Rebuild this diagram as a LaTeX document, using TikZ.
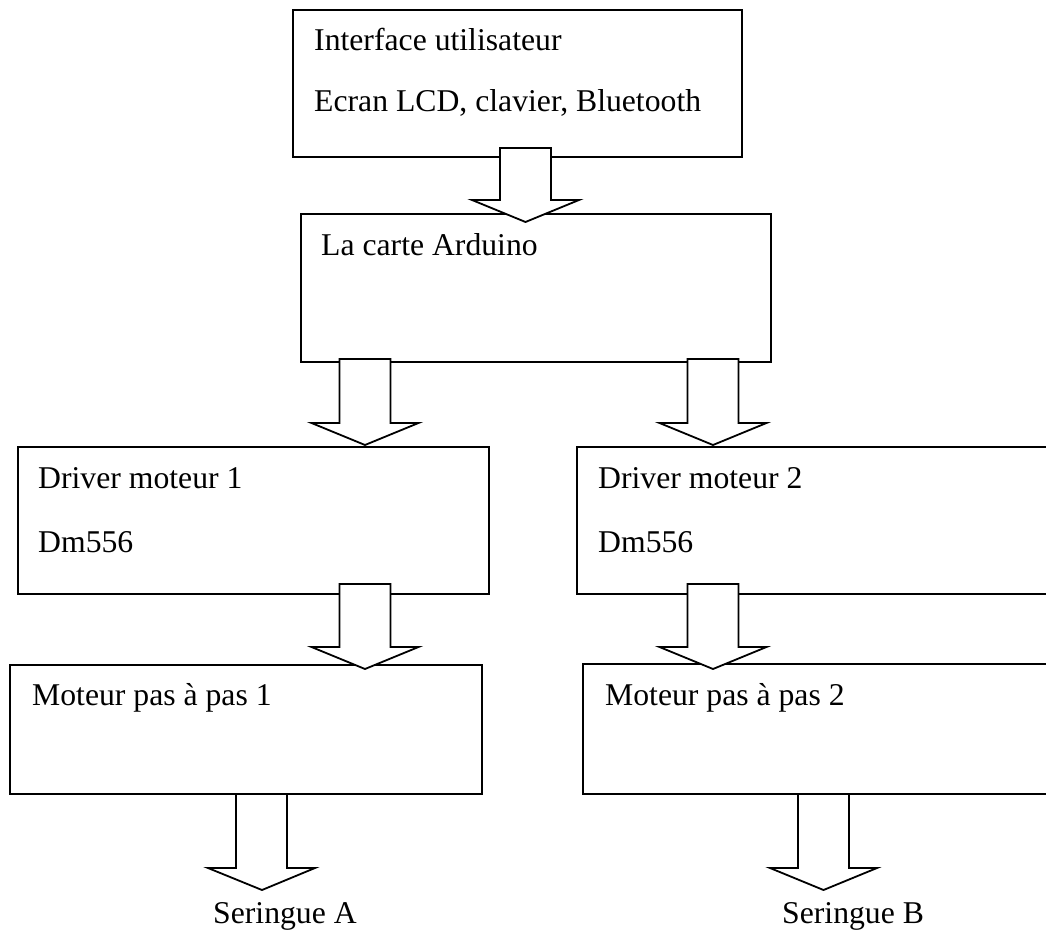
\documentclass[tikz,border=0pt]{standalone}
\usepackage{fontspec}
\setmainfont{Liberation Serif}
\usetikzlibrary{calc}

\tikzset{
  box/.style={draw, line width=2pt, anchor=north west, inner sep=0pt, outer sep=0pt},
  lbl/.style={anchor=base west, inner sep=0pt, font=\fontsize{31.7}{38}\selectfont},
  barrow/.style={draw, fill=white, line width=1.8pt, line join=miter},
}

% hollow block arrow from shaft top #1 to tip #2
\newcommand{\blockarrow}[2]{%
  \draw[barrow] let \p1=(#1), \p2=(#2) in
    (\x1-25.5pt,\y1) -- (\x1+25.5pt,\y1) -- (\x1+25.5pt,\y2+22pt)
    -- (\x1+53.5pt,\y2+22pt) -- (\x2,\y2) -- (\x1-53.5pt,\y2+22pt)
    -- (\x1-25.5pt,\y2+22pt) -- cycle;}

\begin{document}
\begin{tikzpicture}[x=1pt, y=-1pt]
  \useasboundingbox (0,0) rectangle (1046,931);
  \clip (0,0) rectangle (1046,931);

  % blocks
  \node[box, minimum width=449pt, minimum height=147pt] (ui)  at (293,10)  {};
  \node[box, minimum width=470pt, minimum height=148pt] (ard) at (301,214) {};
  \node[box, minimum width=471pt, minimum height=147pt] (drv1) at (18,447) {};
  \node[box, minimum width=480pt, minimum height=147pt] (drv2) at (577,447) {};
  \node[box, minimum width=472pt, minimum height=129pt] (mot1) at (10,665) {};
  \node[box, minimum width=470pt, minimum height=130pt] (mot2) at (583,664) {};

  % texts
  \node[lbl] (uiA)   at ($(ui.north west)+(21,41)$)   {Interface utilisateur};
  \node[lbl] (uiB)   at ($(ui.north west)+(21,102)$)  {Ecran LCD, clavier, Bluetooth};
  \node[lbl] (ardA)  at ($(ard.north west)+(20,41)$)  {La carte Arduino};
  \node[lbl] (drv1A) at ($(drv1.north west)+(20,41)$) {Driver moteur 1};
  \node[lbl] (drv1B) at ($(drv1.north west)+(20,105)$) {Dm556};
  \node[lbl] (drv2A) at ($(drv2.north west)+(21,41)$) {Driver moteur 2};
  \node[lbl] (drv2B) at ($(drv2.north west)+(21,105)$) {Dm556};
  \node[lbl] (mot1A) at ($(mot1.north west)+(22,40)$) {Moteur pas à pas 1};
  \node[lbl] (mot2A) at ($(mot2.north west)+(22,41)$) {Moteur pas à pas 2};
  \node[lbl] (serA)  at (213,923) {Seringue A};
  \node[lbl] (serB)  at (782,923) {Seringue B};

  % arrow ends
  \coordinate (ui-out)   at (525.5,148);
  \coordinate (ard-in)   at (525.5,222);
  \coordinate (ard-out1) at (365,359);
  \coordinate (drv1-in)  at (365,445);
  \coordinate (ard-out2) at (713,359);
  \coordinate (drv2-in)  at (713,445);
  \coordinate (drv1-out) at (365,584);
  \coordinate (mot1-in)  at (365,669);
  \coordinate (drv2-out) at (713,584);
  \coordinate (mot2-in)  at (713,669);
  \coordinate (mot1-out) at (261.5,794);
  \coordinate (serA-in)  at (262,890);
  \coordinate (mot2-out) at (823.5,794);
  \coordinate (serB-in)  at (823.5,890);

  % arrows
  \blockarrow{ui-out}{ard-in}
  \blockarrow{ard-out1}{drv1-in}
  \blockarrow{ard-out2}{drv2-in}
  \blockarrow{drv1-out}{mot1-in}
  \blockarrow{drv2-out}{mot2-in}
  \blockarrow{mot1-out}{serA-in}
  \blockarrow{mot2-out}{serB-in}
\end{tikzpicture}
\end{document}
